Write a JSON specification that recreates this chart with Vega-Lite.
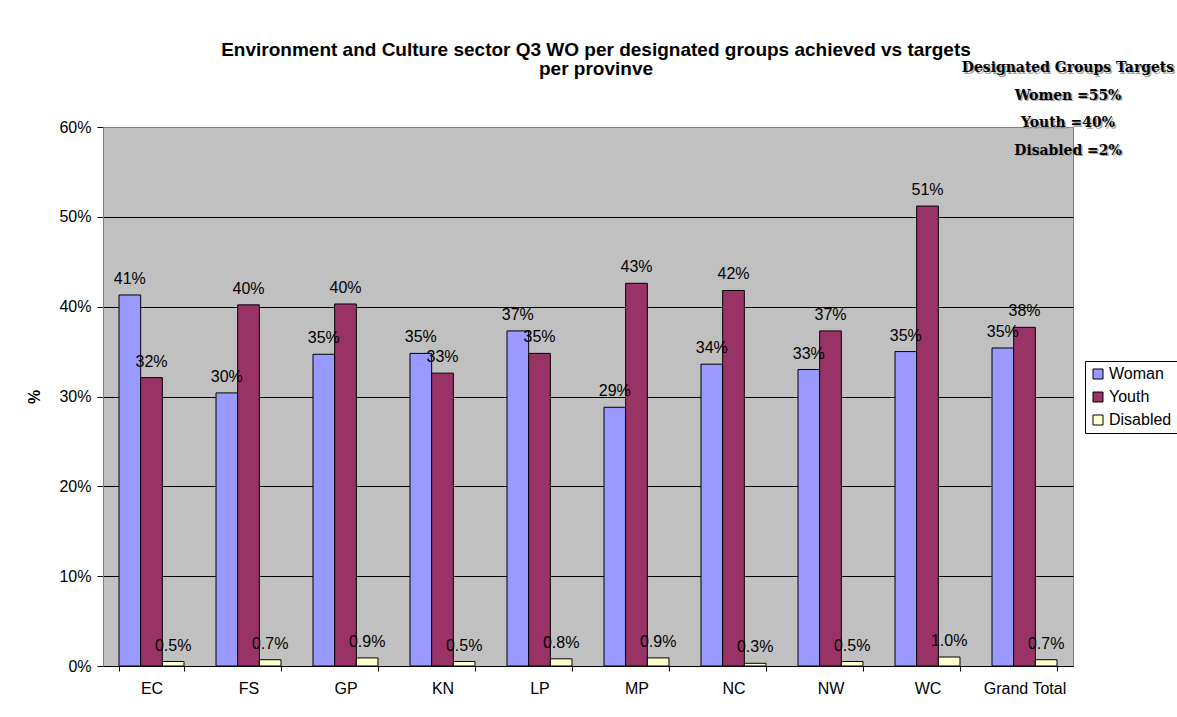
{
  "$schema": "https://vega.github.io/schema/vega-lite/v6.json",
  "autosize": {"type": "none"},
  "width": 970,
  "height": 539,
  "padding": {"left": 103, "top": 127, "right": 104, "bottom": 51},
  "background": "white",
  "config": {
    "font": "Liberation Sans",
    "view": {"fill": "#C0C0C0", "stroke": "#808080", "strokeWidth": 1},
    "axisX": {
      "labelAngle": 0,
      "labelFontSize": 16,
      "labelColor": "black",
      "labelPadding": 9,
      "tickBand": "extent",
      "tickSize": 5,
      "tickColor": "black",
      "domainColor": "black",
      "grid": false
    },
    "axisY": {
      "titleFontSize": 16,
      "titleFontWeight": "bold",
      "titleColor": "black",
      "titlePadding": 16,
      "labelFontSize": 16,
      "labelColor": "black",
      "labelPadding": 6,
      "tickSize": 6,
      "tickColor": "black",
      "domainColor": "#808080",
      "grid": true,
      "gridOpacity": 1,
      "gridWidth": 1
    }
  },
  "title": {
    "text": ["Environment and Culture sector Q3 WO per designated groups achieved vs targets", "per provinve"],
    "fontSize": 19,
    "fontWeight": "bold",
    "font": "Liberation Sans",
    "color": "black",
    "anchor": "middle",
    "frame": "group",
    "offset": -19,
    "lineHeight": 19,
    "dx": 8
  },
  "data": {
    "values": [
      {"province": "EC", "series": "Woman", "value": 0.413},
      {"province": "EC", "series": "Youth", "value": 0.321},
      {"province": "EC", "series": "Disabled", "value": 0.005},
      {"province": "FS", "series": "Woman", "value": 0.304},
      {"province": "FS", "series": "Youth", "value": 0.402},
      {"province": "FS", "series": "Disabled", "value": 0.007},
      {"province": "GP", "series": "Woman", "value": 0.347},
      {"province": "GP", "series": "Youth", "value": 0.403},
      {"province": "GP", "series": "Disabled", "value": 0.009},
      {"province": "KN", "series": "Woman", "value": 0.348},
      {"province": "KN", "series": "Youth", "value": 0.326},
      {"province": "KN", "series": "Disabled", "value": 0.005},
      {"province": "LP", "series": "Woman", "value": 0.373},
      {"province": "LP", "series": "Youth", "value": 0.348},
      {"province": "LP", "series": "Disabled", "value": 0.008},
      {"province": "MP", "series": "Woman", "value": 0.288},
      {"province": "MP", "series": "Youth", "value": 0.426},
      {"province": "MP", "series": "Disabled", "value": 0.009},
      {"province": "NC", "series": "Woman", "value": 0.336},
      {"province": "NC", "series": "Youth", "value": 0.418},
      {"province": "NC", "series": "Disabled", "value": 0.003},
      {"province": "NW", "series": "Woman", "value": 0.330},
      {"province": "NW", "series": "Youth", "value": 0.373},
      {"province": "NW", "series": "Disabled", "value": 0.005},
      {"province": "WC", "series": "Woman", "value": 0.350},
      {"province": "WC", "series": "Youth", "value": 0.512},
      {"province": "WC", "series": "Disabled", "value": 0.010},
      {"province": "Grand Total", "series": "Woman", "value": 0.354},
      {"province": "Grand Total", "series": "Youth", "value": 0.377},
      {"province": "Grand Total", "series": "Disabled", "value": 0.007}
    ]
  },
  "layer": [
    {
      "mark": {"type": "bar", "stroke": "black", "strokeWidth": 1},
      "encoding": {
        "x": {
          "field": "province",
          "type": "nominal",
          "title": null,
          "sort": ["EC", "FS", "GP", "KN", "LP", "MP", "NC", "NW", "WC", "Grand Total"],
          "scale": {"paddingInner": 0.33, "paddingOuter": 0.165}
        },
        "xOffset": {
          "field": "series",
          "type": "nominal",
          "sort": ["Woman", "Youth", "Disabled"],
          "scale": {"paddingInner": 0, "paddingOuter": 0}
        },
        "y": {
          "field": "value",
          "type": "quantitative",
          "title": "%",
          "scale": {"domain": [0, 0.6], "nice": false},
          "axis": {
            "values": [0, 0.1, 0.2, 0.3, 0.4, 0.5, 0.6],
            "format": ".0%",
            "gridColor": {"condition": {"test": "datum.value >= 0.6", "value": "#808080"}, "value": "black"}
          }
        },
        "color": {
          "field": "series",
          "type": "nominal",
          "scale": {"domain": ["Woman", "Youth", "Disabled"], "range": ["#9999FF", "#993366", "#FFFFCC"]},
          "legend": {
            "title": null,
            "orient": "none",
            "legendX": 982,
            "legendY": 234,
            "strokeColor": "black",
            "fillColor": "white",
            "padding": 5,
            "symbolType": "square",
            "symbolSize": 100,
            "symbolStrokeColor": "black",
            "symbolStrokeWidth": 1,
            "symbolOpacity": 1,
            "labelFontSize": 16,
            "labelColor": "black",
            "labelOffset": 3,
            "rowPadding": 7
          }
        }
      }
    },
    {
      "transform": [{"filter": "datum.series !== 'Disabled'"}],
      "mark": {"type": "text", "dy": -11, "baseline": "alphabetic", "fontSize": 16, "color": "black"},
      "encoding": {
        "x": {"field": "province", "type": "nominal", "title": null, "sort": ["EC", "FS", "GP", "KN", "LP", "MP", "NC", "NW", "WC", "Grand Total"]},
        "xOffset": {"field": "series", "type": "nominal", "sort": ["Woman", "Youth", "Disabled"]},
        "y": {"field": "value", "type": "quantitative", "title": "%"},
        "text": {"field": "value", "type": "quantitative", "format": ".0%"}
      }
    },
    {
      "transform": [{"filter": "datum.series === 'Disabled'"}],
      "mark": {"type": "text", "dy": -11, "baseline": "alphabetic", "fontSize": 16, "color": "black"},
      "encoding": {
        "x": {"field": "province", "type": "nominal", "title": null, "sort": ["EC", "FS", "GP", "KN", "LP", "MP", "NC", "NW", "WC", "Grand Total"]},
        "xOffset": {"field": "series", "type": "nominal", "sort": ["Woman", "Youth", "Disabled"]},
        "y": {"field": "value", "type": "quantitative", "title": "%"},
        "text": {"field": "value", "type": "quantitative", "format": ".1%"}
      }
    },
    {
      "data": {"values": [{"note": "targets"}]},
      "mark": {
        "type": "text",
        "text": ["Designated Groups Targets", "Women =55%", "Youth =40%", "Disabled =2%"],
        "font": "DejaVu Serif Condensed, DejaVu Sans Condensed, serif",
        "fontWeight": "bold",
        "fontSize": 15.5,
        "lineHeight": 27.5,
        "align": "center",
        "baseline": "alphabetic",
        "color": "#A8A8A8",
        "dx": 45,
        "dy": 1.5
      },
      "encoding": {
        "x": {"datum": "Grand Total", "type": "nominal", "title": null},
        "y": {"datum": 0.6612, "type": "quantitative", "title": "%"}
      }
    },
    {
      "data": {"values": [{"note": "targets"}]},
      "mark": {
        "type": "text",
        "text": ["Designated Groups Targets", "Women =55%", "Youth =40%", "Disabled =2%"],
        "font": "DejaVu Serif Condensed, DejaVu Sans Condensed, serif",
        "fontWeight": "bold",
        "fontSize": 15.5,
        "lineHeight": 27.5,
        "align": "center",
        "baseline": "alphabetic",
        "color": "black",
        "dx": 43.5
      },
      "encoding": {
        "x": {"datum": "Grand Total", "type": "nominal", "title": null},
        "y": {"datum": 0.6612, "type": "quantitative", "title": "%"}
      }
    }
  ]
}
